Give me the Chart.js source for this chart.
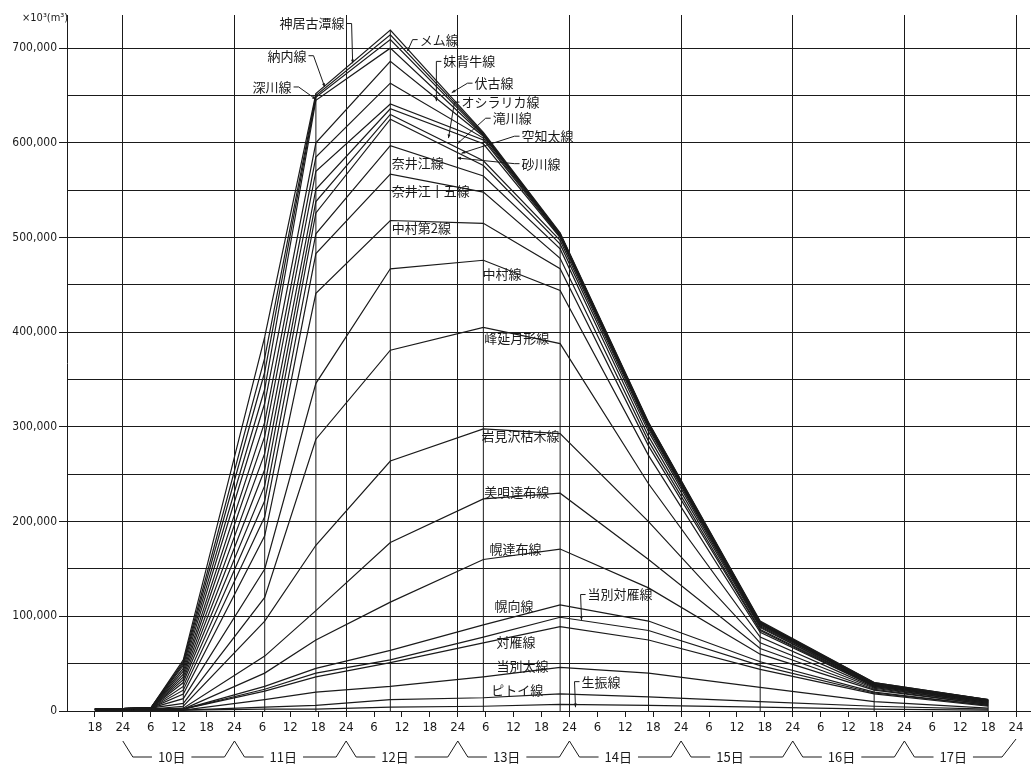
<!DOCTYPE html>
<html>
<head>
<meta charset="utf-8">
<script src="https://cdn.jsdelivr.net/npm/chart.js@4.4.1/dist/chart.umd.min.js"></script>
<style>
  html, body { margin: 0; padding: 0; background: #fff; }
  canvas { display: block; }
</style>
</head>
<body>
<canvas id="chart" width="1032" height="769"></canvas>
<script>
// cumulative flood volume per channel, x10^3 m3
// hours counted from 9th 18:00
const hours = [0, 12, 19, 36.5, 47.5, 63.5, 83.5, 100, 119, 143, 167.5, 192];

const kamuikotan  = [2000, 3000, 54000, 395000, 652000, 719000, 611000, 505000, 305000, 95000, 30000, 12000];
const memu        = [2000, 3000, 52000, 373000, 650000, 714000, 610000, 504000, 304000, 94000, 30000, 12000];
const osamunai    = [2000, 3000, 50000, 358000, 648000, 709000, 609000, 504000, 304000, 94000, 29000, 12000];
const fukagawa    = [2000, 3000, 48000, 340000, 645000, 700000, 608000, 503000, 303000, 93000, 29000, 11000];
const moseushi    = [2000, 3000, 45000, 325000, 600000, 686000, 607000, 503000, 303000, 93000, 29000, 11000];
const fushiko     = [2000, 3000, 42000, 305000, 585000, 663000, 605000, 502000, 302000, 92000, 28000, 11000];
const oshirarika  = [2000, 3000, 39000, 290000, 570000, 641000, 603000, 501000, 301000, 92000, 28000, 11000];
const takikawa    = [2000, 3000, 36000, 272000, 551000, 636000, 599000, 500000, 300000, 91000, 28000, 10000];
const sorachibuto = [2000, 3000, 33000, 255000, 538000, 630000, 581000, 497000, 298000, 90000, 28000, 10000];
const sunagawa    = [2000, 3000, 30000, 238000, 526000, 625000, 576000, 493000, 295000, 89000, 27000, 10000];
const naie        = [2000, 3000, 26000, 222000, 504000, 597000, 565000, 488000, 290000, 88000, 27000, 10000];
const naie15      = [2000, 3000, 22000, 205000, 483000, 567000, 548000, 478000, 285000, 86000, 27000, 9000];
const nakamura2   = [2000, 3000, 18000, 185000, 441000, 518000, 515000, 467000, 280000, 85000, 26000, 9000];
const nakamura    = [2000, 3000, 13000, 150000, 346000, 467000, 476000, 444000, 270000, 83000, 26000, 9000];
const minenobu    = [2000, 3000, 8000, 120000, 287000, 381000, 405000, 388000, 240000, 78000, 25000, 8000];
const iwamizawa   = [2000, 2000, 5000, 95000, 175000, 264000, 298000, 293000, 200000, 72000, 24000, 8000];
const bibai       = [2000, 2000, 3000, 58000, 106000, 178000, 224000, 230000, 160000, 66000, 23000, 7000];
const horotappu   = [2000, 2000, 2000, 40000, 75000, 115000, 160000, 171000, 130000, 60000, 22000, 7000];
const horomui     = [1000, 2000, 2000, 26000, 45000, 64000, 91000, 112000, 95000, 52000, 20000, 6000];
const tobetsuTsui = [1000, 2000, 2000, 23000, 40000, 54000, 78000, 99000, 85000, 48000, 19000, 6000];
const tsuishikari = [1000, 2000, 2000, 21000, 36000, 51000, 72000, 89000, 75000, 44000, 18000, 5000];
const tobetsubuto = [1000, 1000, 1000, 12000, 20000, 26000, 36000, 46000, 40000, 25000, 10000, 3000];
const pitoi       = [1000, 1000, 1000, 4000, 6000, 12000, 14000, 18000, 15000, 10000, 5000, 2000];
const oyafuru     = [1000, 1000, 1000, 2000, 2000, 4000, 5000, 7000, 6000, 4000, 2000, 1000];

const seriesNames = ['神居古潭線','メム線','納内線','深川線','妹背牛線','伏古線','オシラリカ線','滝川線',
  '空知太線','砂川線','奈井江線','奈井江十五線','中村第2線','中村線','峰延月形線','岩見沢枯木線',
  '美唄達布線','幌達布線','幌向線','当別対雁線','対雁線','当別太線','ピトイ線','生振線'];
const seriesValues = [kamuikotan, memu, osamunai, fukagawa, moseushi, fushiko, oshirarika, takikawa,
  sorachibuto, sunagawa, naie, naie15, nakamura2, nakamura, minenobu, iwamizawa,
  bibai, horotappu, horomui, tobetsuTsui, tsuishikari, tobetsubuto, pitoi, oyafuru];

// axis ticks: hour ticks every 6 h, volume grid every 50,000 (labels every 100,000)
const xTicks = [0, 6, 12, 18, 24, 30, 36, 42, 48, 54, 60, 66, 72, 78, 84, 90, 96, 102, 108, 114, 120,
  126, 132, 138, 144, 150, 156, 162, 168, 174, 180, 186, 192, 198];
const xTickLabels = ['18','24','6','12','18','24','6','12','18','24','6','12','18','24','6','12','18','24',
  '6','12','18','24','6','12','18','24','6','12','18','24','6','12','18','24'];
const yTicks = [0, 50000, 100000, 150000, 200000, 250000, 300000, 350000, 400000, 450000, 500000,
  550000, 600000, 650000, 700000];
const yTickLabels = ['0','','100,000','','200,000','','300,000','','400,000','','500,000','','600,000','','700,000'];
const days = ['10日','11日','12日','13日','14日','15日','16日','17日'];

// line labels: text anchor [hour, value] and optional leader target [hour, value]
const noteAt = [[39.7,726000],[69.8,709000],[37.1,692000],[33.9,659000],[74.9,686000],[81.6,663000],[78.8,643000],[85.5,626000],
  [91.7,607000],[91.7,578000],[63.8,579000],[63.8,549000],[63.8,510000],[83.3,461000],[83.7,394000],[83.1,290000],
  [83.7,231000],[84.8,171000],[85.9,111000],[105.9,123000],[86.3,73000],[86.3,47000],[85.2,22000],[104.6,31000]];
const noteTo = [[55.4,684000],[67.2,697000],[49.4,659000],[47.5,646000],[73.4,644000],[76.7,653000],[76,605000],[77.9,599000],
  [78.8,589000],[77.9,584000],null,null,null,null,null,null,
  null,null,null,[104.6,96000],null,null,null,[103.3,4000]];

(function(){
  const INK = '#1a1a1a';
  const CLEAR = 'rgba(0,0,0,0)';
  const CJK = '"Noto Sans CJK JP", "Noto Sans", sans-serif';
  Chart.defaults.font.family = '"DejaVu Sans Condensed", "DejaVu Sans", sans-serif';
  Chart.defaults.color = INK;

  const datasets = seriesValues.map((vals, i) => ({
    label: seriesNames[i],
    data: hours.map((h, j) => ({ x: h, y: vals[j] })),
    borderColor: INK, borderWidth: 1.2, pointRadius: 0, tension: 0, fill: false
  }));

  // vertical rules at each reading time, from the axis up to the top curve
  const ruleData = [];
  hours.forEach((h, j) => {
    if (j < 2) return;
    const top = Math.max(...seriesValues.map(s => s[j]));
    ruleData.push({ x: h, y: 0 }, { x: h, y: top }, { x: h, y: null });
  });
  datasets.push({ label: 'rules', data: ruleData, borderColor: INK, borderWidth: 1, pointRadius: 0, spanGaps: false });

  const decor = {
    id: 'decor',
    afterDraw(chart){
      const { ctx, chartArea, scales: { x, y } } = chart;
      ctx.save();
      ctx.fillStyle = INK; ctx.strokeStyle = INK; ctx.lineWidth = 1;

      // unit
      ctx.font = '11px "DejaVu Sans Condensed", sans-serif';
      ctx.textBaseline = 'middle'; ctx.textAlign = 'left';
      ctx.fillText('×10³(m³)', chartArea.left - 45, chartArea.top + 3);

      // day brackets under the hour ticks
      const apex = chartArea.bottom + 30, base = chartArea.bottom + 46;
      ctx.font = '13px ' + CJK;
      ctx.textAlign = 'center';
      days.forEach((d, i) => {
        const h0 = 6 + 24 * i, h1 = h0 + 24;
        const p0 = x.getPixelForValue(h0), p1 = x.getPixelForValue(h1);
        const cx = x.getPixelForValue(h0 + 10.5);
        const w = ctx.measureText(d).width;
        ctx.fillText(d, cx, base);
        ctx.beginPath();
        ctx.moveTo(p0, apex); ctx.lineTo(p0 + 10, base); ctx.lineTo(cx - w / 2 - 6, base);
        ctx.moveTo(cx + w / 2 + 6, base);
        if (i < days.length - 1) { ctx.lineTo(p1 - 10, base); ctx.lineTo(p1, apex); }
        else { ctx.lineTo(p1 - 14, base); ctx.lineTo(p1, apex - 2); }
        ctx.stroke();
      });

      // line names
      ctx.font = '13px ' + CJK;
      ctx.textAlign = 'left';
      seriesNames.forEach((name, i) => {
        const tx = x.getPixelForValue(noteAt[i][0]), ty = y.getPixelForValue(noteAt[i][1]);
        const w = ctx.measureText(name).width;
        ctx.fillText(name, tx, ty);
        const to = noteTo[i];
        if (!to) return;
        const gx = x.getPixelForValue(to[0]), gy = y.getPixelForValue(to[1]);
        const right = gx > tx + w / 2;
        const sx = right ? tx + w + 2 : tx - 2;
        const kx = right ? sx + 5 : sx - 5;
        ctx.beginPath();
        ctx.moveTo(sx, ty); ctx.lineTo(kx, ty); ctx.lineTo(gx, gy);
        ctx.stroke();
        const a = Math.atan2(gy - ty, gx - kx);
        ctx.beginPath();
        ctx.moveTo(gx, gy);
        ctx.lineTo(gx - 4 * Math.cos(a - 0.4), gy - 4 * Math.sin(a - 0.4));
        ctx.lineTo(gx - 4 * Math.cos(a + 0.4), gy - 4 * Math.sin(a + 0.4));
        ctx.closePath(); ctx.fill();
      });
      ctx.restore();
    }
  };

  new Chart(document.getElementById('chart').getContext('2d'), {
    type: 'line',
    data: { datasets },
    options: {
      responsive: false,
      animation: false,
      layout: { padding: { left: 0, right: 2, top: 15, bottom: 0 } },
      plugins: { legend: { display: false }, tooltip: { enabled: false } },
      scales: {
        x: {
          type: 'linear', min: -6, max: 201, bounds: 'data',
          afterBuildTicks: s => { s.ticks = xTicks.map(v => ({ value: v })); },
          afterFit: s => { s.height = 58; },
          border: { display: true, color: INK, width: 1 },
          grid: {
            color: c => (c.index % 4 === 1 ? INK : CLEAR),
            tickColor: INK, tickLength: 6, lineWidth: 1
          },
          ticks: {
            autoSkip: false, maxRotation: 0, padding: 3,
            font: { size: 13 },
            callback: (v, i) => xTickLabels[i]
          }
        },
        y: {
          min: 0, max: 735000, bounds: 'data',
          afterBuildTicks: s => { s.ticks = yTicks.map(v => ({ value: v })); },
          afterFit: s => { s.width = 67; },
          border: { display: true, color: INK, width: 1 },
          grid: {
            color: INK, lineWidth: 1,
            tickColor: c => (yTickLabels[c.index] ? INK : CLEAR),
            tickLength: 8
          },
          ticks: {
            autoSkip: false, padding: 2,
            font: { size: 12 },
            callback: (v, i) => yTickLabels[i]
          }
        }
      }
    },
    plugins: [decor]
  });
})();
</script>
</body>
</html>
